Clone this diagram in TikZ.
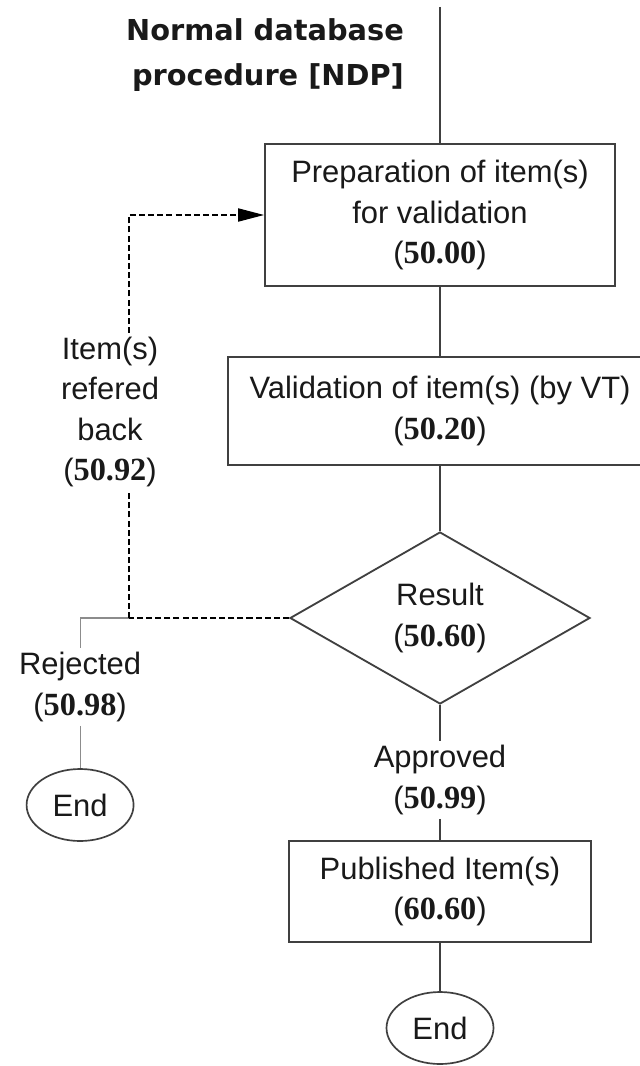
\documentclass[tikz,border=0pt]{standalone}
\usepackage{fontspec}
\setmainfont{Liberation Sans}
\newfontfamily\numfont{Liberation Serif}
\newfontfamily\headfont{DejaVu Sans}
\usetikzlibrary{arrows.meta,shapes.geometric,calc}

\newcommand{\procno}[1]{({\numfont\bfseries\fontsize{23}{23}\selectfont #1})}

\tikzset{
    proc/.style =   {rectangle,
                    fill=white,
                    draw=black!75,
                    text=black!90,
                    line width=1.4pt,
                    align=center,
                    inner sep=0pt},
    decide/.style = {diamond,
                    fill=white,
                    draw=black!75,
                    text=black!90,
                    line width=1.3pt,
                    align=center,
                    inner sep=0pt,
                    minimum width=7.5cm,
                    minimum height=4.3cm},
    stop/.style =   {ellipse,
                    fill=white,
                    draw=black!75,
                    text=black!90,
                    line width=1.2pt,
                    minimum width=2.675cm,
                    minimum height=1.8cm,
                    inner sep=0pt},
    tag/.style =    {align=center,
                    text=black!90,
                    inner sep=3pt},
    -,
    link/.style =   {draw=black!75,
                    line width=1.2pt},
    faint/.style =  {draw=black!45,
                    line width=0.8pt},
    back/.style =   {draw=black,
                    line width=1pt,
                    dash pattern=on 4.3pt off 2.2pt},
    >={Triangle[length=0.65cm,width=0.33cm]},
    node distance=2cm}

\begin{document}
\begin{tikzpicture}[font=\fontsize{22}{28.5}\selectfont]
    \clip (0,0) rectangle (16,-26.65);
    \fill[white] (0,0) rectangle (16,-26.65);
    \coordinate (top) at (11,-0.175);
    \node[tag, align=right, font=\headfont\bfseries\fontsize{20.5}{32}\selectfont]
        (title) at (6.625,-1.375) {Normal database\\procedure [NDP]};

    % main column
    \node[proc, minimum width=8.75cm, minimum height=3.55cm]
        (prep) at (11,-5.375) {Preparation of item(s)\\for validation\\\procno{50.00}};
    \node[proc, minimum width=10.6cm, minimum height=2.7cm]
        (valid) [below of=prep, node distance=4.9cm] {Validation of item(s) (by VT)\\\procno{50.20}};
    \node[decide] (result) [below of=valid, node distance=5.175cm] {Result\\\procno{50.60}};
    \node[tag] (approved) [below of=result, node distance=4.05cm] {Approved\\\procno{50.99}};
    \node[proc, minimum width=7.55cm, minimum height=2.525cm]
        (publ) [below of=approved, node distance=2.7875cm] {Published Item(s)\\\procno{60.60}};
    \node[stop] (endR) [below of=publ, node distance=3.4125cm] {End};

    % left branch
    \coordinate (split) at ($(result.west)+(-4,0)$);
    \coordinate (corner) at ($(result.west)+(-5.225,0)$);
    \node[tag] (rejected) [below of=corner, node distance=1.725cm] {Rejected\\\procno{50.98}};
    \node[stop] (endL) [below of=corner, node distance=4.675cm] {End};
    \node[tag] (refer) at (2.75,-10.3) {Item(s)\\refered\\back\\\procno{50.92}};

    \draw[link] (top) -- (prep);
    \draw[link] (prep) -- (valid);
    \draw[link] (valid) -- (result);
    \draw[link] (result) -- (approved);
    \draw[link] (approved) -- (publ);
    \draw[link] (publ) -- (endR);

    \draw[back] (result.west) -- (split);
    \draw[faint] (split) -- (corner) -- (rejected);
    \draw[faint] (rejected) -- (endL);
    \draw[back] (split) -- (split |- refer.south);
    \draw[back,->] (split |- refer.north) |- (prep.west);
\end{tikzpicture}
\end{document}
